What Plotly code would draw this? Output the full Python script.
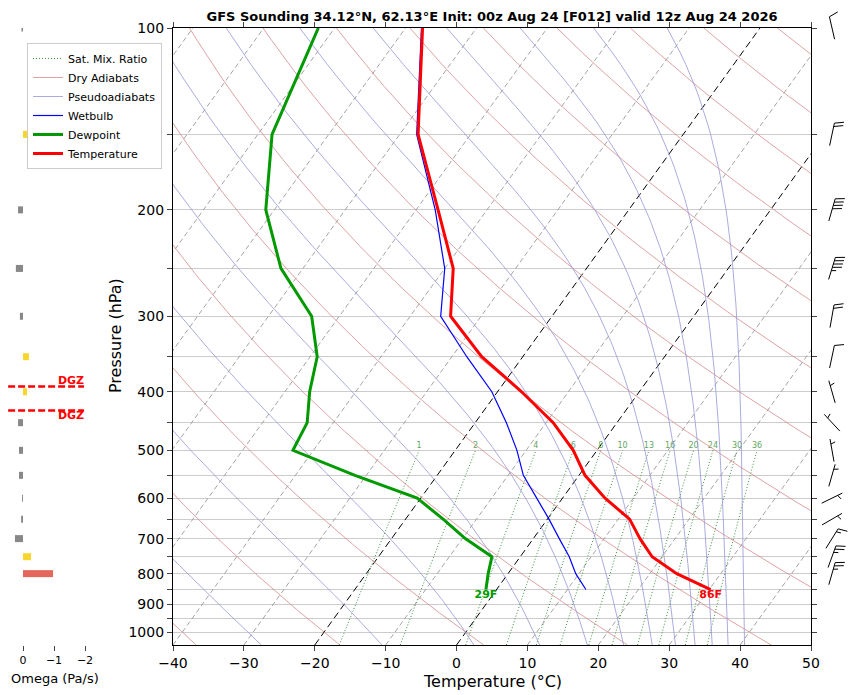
import numpy as np
import plotly.graph_objects as go

# ---- sounding data ----
pressure = [100, 150, 200, 250, 300, 350, 400, 450, 500, 550, 600, 650, 700, 750, 800, 850]
temperature = [-67.6, -57.4, -46.9, -38.8, -34.3, -25.8, -16.6, -9.0, -3.35, 0.85, 6.0, 11.6,
               15.05, 18.6, 23.8, 30.2]
dewpoint = [-82.3, -78.0, -71.2, -63.1, -53.9, -49.0, -46.5, -43.7, -42.9, -31.6, -20.5, -14.7,
            -9.6, -4.0, -2.8, -1.5]
wetbulb = [-67.75, -57.6, -47.3, -40.0, -35.7, -27.9, -20.8, -15.6, -11.3, -7.85, -3.64, 0.23,
           3.66, 6.91, 9.55, 12.6]

# omega (Pa/s) and winds (deg, kt) on the 100-800 hPa levels
upper_levels = [100, 150, 200, 250, 300, 350, 400, 450, 500, 550, 600, 650, 700, 750, 800]
omega = [0.05, -0.15, 0.16, 0.23, 0.10, -0.19, -0.13, 0.16, 0.13, 0.13, 0.03, 0.06, 0.26, -0.26, -0.97]
wind_dir = [347, 12, 16, 17, 10, 12, 344, 317, 350, 16, 64, 60, 32, 20, 16]
wind_spd = [10, 20, 40, 45, 20, 10, 5, 5, 5, 5, 5, 5, 15, 25, 25]

# background lines of the diagram
isotherms = [-130, -120, -110, -100, -90, -80, -70, -60, -50, -40, -30, -20, -10, 0, 10, 20, 30, 40, 50]
dark_isotherms = [-20, 0]
dry_adiabats = [-40, -20, 0, 20, 40, 60, 80, 100, 120, 140, 160, 180, 200, 220, 240]
# pseudoadiabats, labelled by the potential temperature they share at the 100 hPa top
moist_tops = [-30, -10, 10, 30, 50, 70, 90, 110, 130, 150, 170, 190]
mix_ratios = [1, 2, 4, 6, 8, 10, 13, 16, 20, 24, 30, 36]  # g/kg

title = 'GFS Sounding 34.12°N, 62.13°E Init: 00z Aug 24 [F012] valid 12z Aug 24 2026'

P_BOT, P_TOP = 1050.0, 100.0
SKEW = 61.5  # degC per decade of pressure

# page body has an 8px margin, so the figure is laid out 8px up/left of the target picture
OFF = 8
W, H = 856 - OFF, 695 - OFF
AX_T, AX_B = 28 - OFF, 645 - OFF
PLOT_H = AX_B - AX_T
PX_PER_DECADE = PLOT_H / np.log10(P_BOT / P_TOP)

Rd, Cp, Lv, EPS = 287.04, 1005.7, 2.501e6, 0.622
KAPPA = Rd / Cp


def skew_x(t, p):
    return np.asarray(t, dtype=float) + SKEW * np.log10(P_BOT / np.asarray(p, dtype=float))


def sat_mix(tk, p):
    es = 6.112 * np.exp(17.67 * (tk - 273.15) / (tk - 29.65))
    return EPS * es / (p - es)


def moist_rate(tk, p):
    rs = sat_mix(tk, p)
    return (Rd * tk + Lv * rs) / (Cp + Lv * Lv * rs * EPS / (Rd * tk * tk)) / p


def moist_adiabat(t0, plevs):
    out = [t0 + 273.15]
    for i in range(1, len(plevs)):
        p, dp = plevs[i - 1], plevs[i] - plevs[i - 1]
        t = out[-1]
        k1 = moist_rate(t, p)
        k2 = moist_rate(t + 0.5 * dp * k1, p + 0.5 * dp)
        k3 = moist_rate(t + 0.5 * dp * k2, p + 0.5 * dp)
        k4 = moist_rate(t + dp * k3, p + dp)
        out.append(t + dp * (k1 + 2 * k2 + 2 * k3 + k4) / 6)
    return np.array(out) - 273.15


def joined(lines):
    xs, ys = [], []
    for x, y in lines:
        xs += list(x) + [None]
        ys += list(y) + [None]
    return xs, ys


def px_x(px):
    return (px - OFF) / W


def px_y(py):
    # paper y: the plot area runs from the figure top down to the main x axis
    return (AX_B - (py - OFF)) / AX_B


plevs = np.linspace(P_BOT, P_TOP, 191)
fig = go.Figure()

# isotherms
for group, color, width, dash in [([t for t in isotherms if t not in dark_isotherms], '#9a9a9a', 0.9, '5px,3px'),
                                  (dark_isotherms, 'black', 1.0, '7px,4px')]:
    xs, ys = joined([(skew_x([t, t], [P_BOT, P_TOP]), [P_BOT, P_TOP]) for t in group])
    fig.add_trace(go.Scatter(x=xs, y=ys, mode='lines', showlegend=False, hoverinfo='skip',
                             line=dict(color=color, width=width, dash=dash)))

# saturation mixing ratio lines
mr_p = np.linspace(P_BOT, 500, 60)
mr_lines, mr_tops = [], []
for w in mix_ratios:
    e = (w / 1000) * mr_p / (EPS + w / 1000)
    lg = np.log(e / 6.112)
    td = 243.5 * lg / (17.67 - lg)
    mr_lines.append((skew_x(td, mr_p), mr_p))
    mr_tops.append(skew_x(td[-1], 500))
xs, ys = joined(mr_lines)
fig.add_trace(go.Scatter(x=xs, y=ys, mode='lines', name='Sat. Mix. Ratio', hoverinfo='skip',
                         line=dict(color='rgb(60,145,60)', width=1, dash='1px,2px')))
fig.add_trace(go.Scatter(x=mr_tops, y=[500] * len(mix_ratios), mode='text', showlegend=False,
                         text=[str(w) for w in mix_ratios], textposition='top center',
                         textfont=dict(size=8, color='rgb(100,165,100)'), hoverinfo='skip'))

# dry adiabats
xs, ys = joined([(skew_x((th + 273.15) * (plevs / 1000) ** KAPPA - 273.15, plevs), plevs)
                 for th in dry_adiabats])
fig.add_trace(go.Scatter(x=xs, y=ys, mode='lines', name='Dry Adiabats', hoverinfo='skip',
                         line=dict(color='rgb(214,140,140)', width=0.8)))

# pseudoadiabats, integrated down from the top of the diagram
down = plevs[::-1]
lines = []
for th in moist_tops:
    t_top = (th + 273.15) * (P_TOP / 1000) ** KAPPA - 273.15
    lines.append((skew_x(moist_adiabat(t_top, down), down), down))
xs, ys = joined(lines)
fig.add_trace(go.Scatter(x=xs, y=ys, mode='lines', name='Pseudoadiabats', hoverinfo='skip',
                         line=dict(color='rgb(150,150,215)', width=0.8)))

# profiles
fig.add_trace(go.Scatter(x=skew_x(wetbulb, pressure), y=pressure, mode='lines', name='Wetbulb',
                         line=dict(color='blue', width=1.2)))
fig.add_trace(go.Scatter(x=skew_x(dewpoint, pressure), y=pressure, mode='lines', name='Dewpoint',
                         line=dict(color='#009a00', width=3)))
fig.add_trace(go.Scatter(x=skew_x(temperature, pressure), y=pressure, mode='lines', name='Temperature',
                         line=dict(color='red', width=3)))

for series, color in [(temperature, 'red'), (dewpoint, '#009a00')]:
    fig.add_trace(go.Scatter(x=skew_x([series[-1]], [pressure[-1]]), y=[pressure[-1]], mode='text',
                             text=['<b>%dF</b>' % round(series[-1] * 9 / 5 + 32)],
                             textposition='bottom center', showlegend=False, hoverinfo='skip',
                             textfont=dict(size=11, color=color)))

# omega panel
for color, keep in [('#888888', lambda v: v >= 0), ('#f8d52c', lambda v: -0.5 < v < 0),
                    ('#e4675e', lambda v: v <= -0.5)]:
    xs, ys = joined([([0, v], [p, p]) for p, v in zip(upper_levels, omega) if keep(v)])
    fig.add_trace(go.Scatter(x=xs, y=ys, mode='lines', xaxis='x2', yaxis='y2', showlegend=False,
                             hoverinfo='skip', line=dict(color=color, width=7)))

# dendritic growth zone (-12 to -18 C) from the temperature profile
dgz = [10 ** np.interp(t, temperature, np.log10(pressure)) for t in (-18, -12)]
OM_L, OM_R = 0.48, -1.97
xs, ys = joined([([OM_L, OM_R], [p, p]) for p in dgz])
fig.add_trace(go.Scatter(x=xs, y=ys, mode='lines', xaxis='x2', yaxis='y2', showlegend=False,
                         hoverinfo='skip', line=dict(color='red', width=2.5, dash='7px,3px')))
fig.add_trace(go.Scatter(x=[OM_R, OM_R], y=dgz, mode='text', xaxis='x2', yaxis='y2', showlegend=False,
                         text=['<b>DGZ</b>', '<b>DGZ</b>'], textposition=['top left', 'bottom left'],
                         textfont=dict(size=11, color='red'), hoverinfo='skip'))

# wind barbs (pivot at the middle of the staff, pixel units)
BARB_LEN = 23.0
BARB_X = 21.0


def barb_lines(p0, spd, wdir):
    d = np.deg2rad(wdir)
    s = np.array([np.sin(d), np.cos(d)])
    b = np.array([s[1], -s[0]])
    tip = s * BARB_LEN / 2
    segs = [[-tip, tip]]
    full = int(spd // 10)
    half = (spd - 10 * full) >= 5
    off = 0.0
    step = 0.15 * BARB_LEN
    for _ in range(full):
        base = tip - s * off
        segs.append([base, base + b * 0.4 * BARB_LEN + s * 0.125 * BARB_LEN])
        off += step
    if half:
        if off == 0:
            off = 1.5 * step
        base = tip - s * off
        segs.append([base, base + b * 0.2 * BARB_LEN + s * 0.0625 * BARB_LEN])
    out = []
    for a, c in segs:
        pts = np.array([a, c])
        out.append((BARB_X + pts[:, 0], p0 * 10 ** (-pts[:, 1] / PX_PER_DECADE)))
    return out


barbs = []
for p, spd, wdir in zip(upper_levels, wind_spd, wind_dir):
    barbs += barb_lines(p, spd, wdir)
xs, ys = joined(barbs)
fig.add_trace(go.Scatter(x=xs, y=ys, mode='lines', xaxis='x3', yaxis='y3', showlegend=False,
                         hoverinfo='skip', line=dict(color='black', width=1)))

# ---- layout ----
ylog = [np.log10(P_BOT), np.log10(P_TOP)]
ylog_full = [np.log10(P_BOT), np.log10(P_TOP) - AX_T / PX_PER_DECADE]  # barb column runs to the top
y_dom = [0, PLOT_H / AX_B]
p_ticks = list(range(100, 1001, 50))
p_text = [str(p) if p % 100 == 0 else '' for p in p_ticks]
t_ticks = list(range(-40, 51, 10))
t_text = [str(t).replace('-', '\u2212') for t in t_ticks]

fig.update_layout(
    width=W, height=H,
    margin=dict(l=0, r=0, t=0, b=H - AX_B, pad=0),
    paper_bgcolor='white', plot_bgcolor='white',
    font=dict(family='DejaVu Sans', color='black'),
    title=dict(text='<b>' + title + '</b>', x=px_x(492), xanchor='center', xref='paper',
               y=1 - (16 - OFF) / H, yanchor='middle', yref='container', font=dict(size=13)),
    showlegend=True,
    legend=dict(x=px_x(27), y=px_y(43), xanchor='left', yanchor='top',
                bgcolor='rgba(255,255,255,0.85)', bordercolor='#cccccc', borderwidth=1,
                font=dict(size=11), itemwidth=30, tracegroupgap=0),
    xaxis=dict(domain=[px_x(173), px_x(811)], range=[-40, 50], tickvals=t_ticks, ticktext=t_text,
               ticks='outside', ticklen=5, tickwidth=1, showline=True, linecolor='black', linewidth=1.2,
               mirror='ticks', showgrid=False, zeroline=False, anchor='y', automargin=False,
               tickfont=dict(size=14)),
    yaxis=dict(type='log', range=ylog, domain=y_dom, tickvals=p_ticks, ticktext=p_text, ticks='outside',
               ticklen=5, tickwidth=1, showline=True, linecolor='black', linewidth=1.2, mirror='ticks',
               showgrid=True, gridcolor='#cccccc', gridwidth=1, zeroline=False, anchor='x',
               automargin=False, tickfont=dict(size=14)),
    xaxis2=dict(domain=[px_x(8), px_x(85)], range=[0.484, -2], tickvals=[0, -1, -2],
                ticktext=['0', '\u22121', '\u22122'], ticks='outside', ticklen=5, showline=False,
                showgrid=False, zeroline=False, anchor='y2', automargin=False, tickfont=dict(size=11)),
    yaxis2=dict(type='log', range=ylog, domain=y_dom, visible=False, anchor='x2', automargin=False),
    xaxis3=dict(domain=[px_x(811), 1.0], range=[0, 45], visible=False, anchor='y3', automargin=False),
    yaxis3=dict(type='log', range=ylog_full, domain=[0, 1], visible=False, anchor='x3', automargin=False),
    annotations=[
        dict(text='Temperature (°C)', x=px_x(492), y=px_y(681), xref='paper', yref='paper',
             showarrow=False, xanchor='center', yanchor='middle', font=dict(size=16)),
        dict(text='Pressure (hPa)', x=px_x(115), y=px_y(336), xref='paper', yref='paper',
             showarrow=False, xanchor='center', yanchor='middle', textangle=-90, font=dict(size=16)),
        dict(text='Omega (Pa/s)', x=px_x(55), y=px_y(678), xref='paper', yref='paper',
             showarrow=False, xanchor='center', yanchor='middle', font=dict(size=13)),
    ],
)

fig.write_html('out.html')
